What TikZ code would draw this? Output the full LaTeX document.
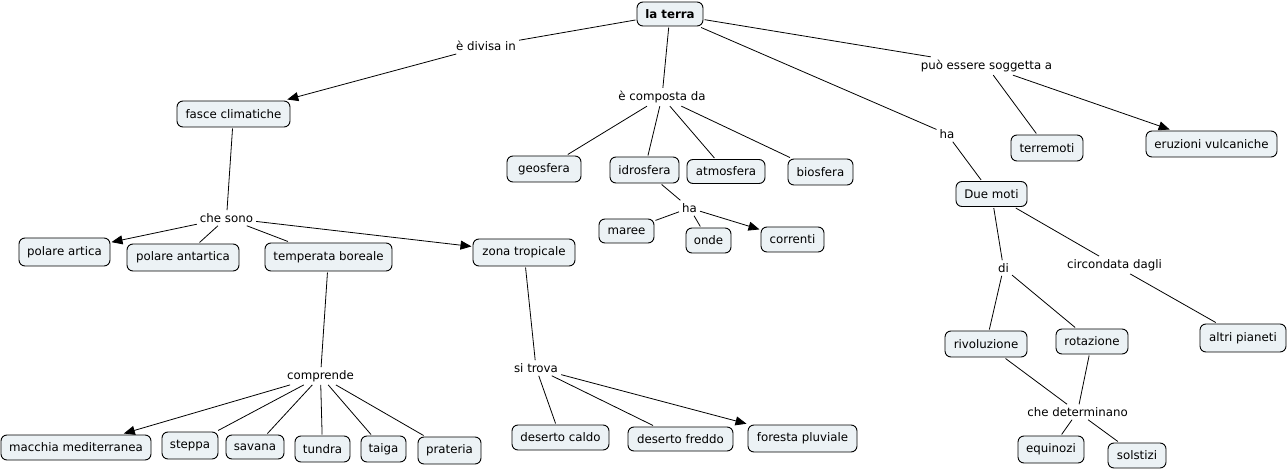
\documentclass[tikz,border=0pt]{standalone}
\usepackage{fontspec}
\setmainfont{DejaVu Sans}
\usetikzlibrary{arrows.meta}
\definecolor{cfill}{RGB}{236,242,245}
\tikzset{
  concept/.style={draw=black, fill=cfill, rounded corners=6pt, line width=0.9pt,
    inner xsep=2pt, inner ysep=2pt, outer sep=1.5pt, font=\fontsize{11.8}{14}\selectfont},
  lphrase/.style={fill=white, inner sep=3pt, font=\fontsize{11.8}{14}\selectfont},
  link/.style={draw=black, line width=0.8pt},
  arr/.style={link, -{Triangle[length=11pt,width=9pt]}},
}
\begin{document}
\begin{tikzpicture}[x=1pt,y=-1pt]
\useasboundingbox (0,0) rectangle (1288,470);
% concepts
\node[concept, minimum width=66pt, minimum height=24pt, font=\fontsize{11.8}{14}\selectfont\bfseries] (terra) at (670,14) {la terra};
\node[concept, minimum width=113pt, minimum height=26pt] (fasce) at (233.5,114) {fasce climatiche};
\node[concept, minimum width=74pt, minimum height=26pt] (geo) at (544,169) {geosfera};
\node[concept, minimum width=69pt, minimum height=26pt] (idro) at (644.5,170) {idrosfera};
\node[concept, minimum width=78pt, minimum height=24pt] (atmo) at (726,171.5) {atmosfera};
\node[concept, minimum width=65pt, minimum height=26pt] (bio) at (820.5,172) {biosfera};
\node[concept, minimum width=72pt, minimum height=26pt] (terrem) at (1047,148) {terremoti};
\node[concept, minimum width=131pt, minimum height=26pt] (eruz) at (1211.5,144) {eruzioni vulcaniche};
\node[concept, minimum width=71pt, minimum height=25pt] (moti) at (991.5,194) {Due moti};
\node[concept, minimum width=91pt, minimum height=28pt] (artica) at (64.5,252) {polare artica};
\node[concept, minimum width=112pt, minimum height=27pt] (antartica) at (183,257.5) {polare antartica};
\node[concept, minimum width=127pt, minimum height=28pt] (boreale) at (328.5,257) {temperata boreale};
\node[concept, minimum width=102pt, minimum height=27pt] (tropicale) at (524,252.5) {zona tropicale};
\node[concept, minimum width=150pt, minimum height=25pt] (macchia) at (76,447.5) {macchia mediterranea};
\node[concept, minimum width=56pt, minimum height=27pt] (steppa) at (190,445.5) {steppa};
\node[concept, minimum width=58pt, minimum height=24pt] (savana) at (255,447) {savana};
\node[concept, minimum width=55pt, minimum height=26pt] (tundra) at (322.5,449) {tundra};
\node[concept, minimum width=45pt, minimum height=26pt] (taiga) at (383.5,449) {taiga};
\node[concept, minimum width=63pt, minimum height=27pt] (prateria) at (449.5,450.5) {prateria};
\node[concept, minimum width=55pt, minimum height=24pt] (maree) at (626.5,231) {maree};
\node[concept, minimum width=45pt, minimum height=25pt] (onde) at (708.5,240.5) {onde};
\node[concept, minimum width=63pt, minimum height=25pt] (correnti) at (792.5,239.5) {correnti};
\node[concept, minimum width=97pt, minimum height=25pt] (caldo) at (560.5,437.5) {deserto caldo};
\node[concept, minimum width=105pt, minimum height=24pt] (freddo) at (680.5,439) {deserto freddo};
\node[concept, minimum width=109pt, minimum height=27pt] (foresta) at (802.5,438.5) {foresta pluviale};
\node[concept, minimum width=82pt, minimum height=26pt] (rivol) at (986,344) {rivoluzione};
\node[concept, minimum width=72pt, minimum height=25pt] (rotaz) at (1092,341.5) {rotazione};
\node[concept, minimum width=86pt, minimum height=28pt] (pianeti) at (1243,338) {altri pianeti};
\node[concept, minimum width=66pt, minimum height=27pt] (equin) at (1051,449.5) {equinozi};
\node[concept, minimum width=58pt, minimum height=25pt] (solst) at (1137,455.5) {solstizi};
% linking phrases
\node[lphrase] (divisa) at (486,46) {è divisa in};
\node[lphrase] (composta) at (662,97) {è composta da};
\node[lphrase] (soggetta) at (986.5,66) {può essere soggetta a};
\node[lphrase] (haA) at (947,134) {ha};
\node[lphrase] (chesono) at (226.5,218) {che sono};
\node[lphrase] (haB) at (689.5,208) {ha};
\node[lphrase] (comprende) at (320.5,376) {comprende};
\node[lphrase] (sitrova) at (536,368) {si trova};
\node[lphrase] (di) at (1003.5,268) {di};
\node[lphrase] (circondata) at (1114.5,265) {circondata dagli};
\node[lphrase] (determinano) at (1077.5,412) {che determinano};
% connectors
\draw[link] (terra) -- (divisa);
\draw[arr] (divisa) -- (fasce);
\draw[link] (terra) -- (composta);
\draw[link] (composta) -- (geo);
\draw[link] (composta) -- (idro);
\draw[link] (composta) -- (atmo);
\draw[link] (composta) -- (bio);
\draw[link] (terra) -- (soggetta);
\draw[link] (soggetta) -- (terrem);
\draw[arr] (soggetta) -- (eruz);
\draw[link] (terra) -- (haA);
\draw[link] (haA) -- (moti);
\draw[link] (fasce) -- (chesono);
\draw[arr] (chesono) -- (artica);
\draw[link] (chesono) -- (antartica);
\draw[link] (chesono) -- (boreale);
\draw[arr] (chesono) -- (tropicale);
\draw[link] (idro) -- (haB);
\draw[link] (haB) -- (maree);
\draw[link] (haB) -- (onde);
\draw[arr] (haB) -- (correnti);
\draw[link] (boreale) -- (comprende);
\draw[arr] (comprende) -- (macchia);
\draw[link] (comprende) -- (steppa);
\draw[link] (comprende) -- (savana);
\draw[link] (comprende) -- (tundra);
\draw[link] (comprende) -- (taiga);
\draw[link] (comprende) -- (prateria);
\draw[link] (tropicale) -- (sitrova);
\draw[link] (sitrova) -- (caldo);
\draw[link] (sitrova) -- (freddo);
\draw[arr] (sitrova) -- (foresta);
\draw[link] (moti) -- (di);
\draw[link] (di) -- (rivol);
\draw[link] (di) -- (rotaz);
\draw[link] (moti) -- (circondata);
\draw[link] (circondata) -- (pianeti);
\draw[link] (rivol) -- (determinano);
\draw[link] (rotaz) -- (determinano);
\draw[link] (determinano) -- (equin);
\draw[link] (determinano) -- (solst);
\end{tikzpicture}
\end{document}
